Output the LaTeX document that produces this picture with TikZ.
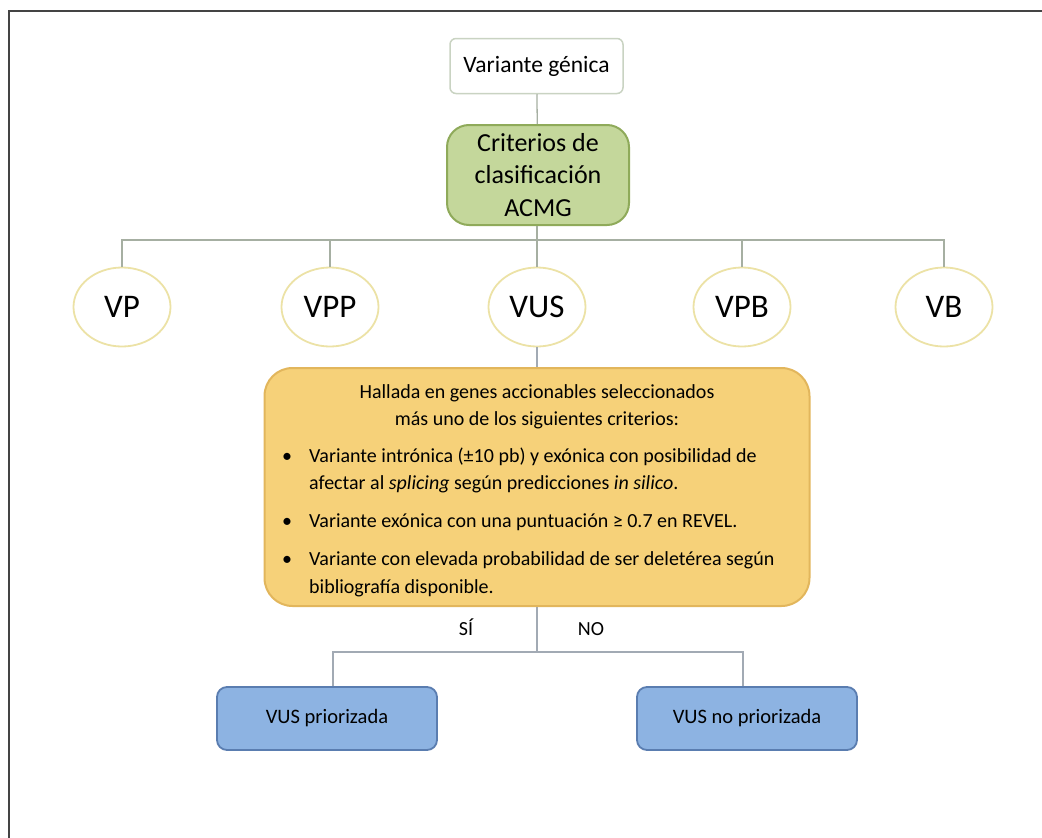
\documentclass[tikz,border=0pt]{standalone}
\usepackage{fontspec}
\setmainfont{Carlito}
\usetikzlibrary{shapes.geometric}
\definecolor{linegray}{HTML}{A6AFA2}
\definecolor{linegrayb}{HTML}{A2AAB4}
\definecolor{greenfill}{HTML}{C4D79B}
\definecolor{greenline}{HTML}{8FAA5A}
\definecolor{orangefill}{HTML}{F6D179}
\definecolor{orangeline}{HTML}{E2B65C}
\definecolor{bluefill}{HTML}{8DB3E2}
\definecolor{blueline}{HTML}{5A7DB0}
\definecolor{ellline}{HTML}{ECE2A6}
\definecolor{topline}{HTML}{C9D3C2}
\definecolor{framecol}{HTML}{444444}
\tikzset{
  conn/.style={draw=linegray, line width=1.3pt},
  connb/.style={draw=linegrayb, line width=1.3pt},
  topbox/.style={draw=topline, line width=1.5pt, rounded corners=6pt, fill=white,
    minimum width=173pt, minimum height=55pt, inner sep=0pt, font=\fontsize{23.5}{28}\selectfont},
  greenbox/.style={draw=greenline, fill=greenfill, line width=2pt, rounded corners=22pt,
    minimum width=182pt, minimum height=100pt, inner sep=0pt, align=center,
    font=\fontsize{26}{32.5}\selectfont},
  cls/.style={ellipse, draw=ellline, line width=1.8pt, fill=white, minimum width=97pt,
    minimum height=79pt, inner sep=0pt, font=\fontsize{33}{38}\selectfont},
  critbox/.style={draw=orangeline, fill=orangefill, line width=2pt, rounded corners=28pt,
    minimum width=545pt, minimum height=238pt, inner sep=0pt},
  crittext/.style={inner sep=0pt, font=\fontsize{20}{24}\selectfont},
  resbox/.style={draw=blueline, fill=bluefill, line width=1.8pt, rounded corners=10pt,
    minimum width=220pt, minimum height=63pt, inner sep=0pt, font=\fontsize{20.5}{24}\selectfont},
  lbl/.style={inner sep=0pt, font=\fontsize{20}{24}\selectfont}
}
\begin{document}
\begin{tikzpicture}[x=1pt,y=-1pt]
\useasboundingbox (0,0) rectangle (1042,838);
\draw[framecol, line width=2pt] (8.5,838) -- (8.5,10.5) -- (1042,10.5);

\node[topbox] (var) at (536.5,66) {Variante génica};
\node[greenbox] (acmg) at (538,175) {Criterios de\\clasificación\\ACMG};

\node[cls] (vp)  at (122,307) {VP};
\node[cls] (vpp) at (330,307) {VPP};
\node[cls] (vus) at (537,307) {VUS};
\node[cls] (vpb) at (742,307) {VPB};
\node[cls] (vb)  at (944,307) {VB};

\node[critbox] (crit) at (537,487) {};
\node[crittext, anchor=mid] (c1) at (537,396) {Hallada en genes accionables seleccionados};
\node[crittext, anchor=mid] (c2) at (537,423) {más uno de los siguientes criterios:};
\node[crittext, anchor=mid] (b1) at (287,460) {•};
\node[crittext, anchor=mid west] (t1) at (309,460) {Variante intrónica (±10 pb) y exónica con posibilidad de};
\node[crittext, anchor=mid west] (t1b) at (309,487) {afectar al \textit{splicing} según predicciones \textit{in silico}.};
\node[crittext, anchor=mid] (b2) at (287,525) {•};
\node[crittext, anchor=mid west] (t2) at (309,525) {Variante exónica con una puntuación ≥ 0.7 en REVEL.};
\node[crittext, anchor=mid] (b3) at (287,563) {•};
\node[crittext, anchor=mid west] (t3) at (309,563) {Variante con elevada probabilidad de ser deletérea según};
\node[crittext, anchor=mid west] (t3b) at (309,591) {bibliografía disponible.};

\node[resbox] (pri) at (327,718.5) {VUS priorizada};
\node[resbox] (nopri) at (747,718.5) {VUS no priorizada};

\node[lbl, anchor=mid] (si) at (466,633) {SÍ};
\node[lbl, anchor=mid] (no) at (591,633) {NO};

\coordinate (bus) at (537,240);
\coordinate (bus2) at (537,652);

\draw[conn] (var) -- (acmg);
\draw[conn] (acmg.south -| bus) -- (bus);
\draw[conn] (bus) -| (vp.north);
\draw[conn] (bus) -| (vpp.north);
\draw[conn] (bus) -- (vus.north);
\draw[conn] (bus) -| (vpb.north);
\draw[conn] (bus) -| (vb.north);
\draw[connb] (vus) -- (crit);
\draw[connb] (crit.south) -- (bus2);
\draw[connb] (bus2) -| ([xshift=6pt]pri.north);
\draw[connb] (bus2) -| ([xshift=-4pt]nopri.north);
\end{tikzpicture}
\end{document}
